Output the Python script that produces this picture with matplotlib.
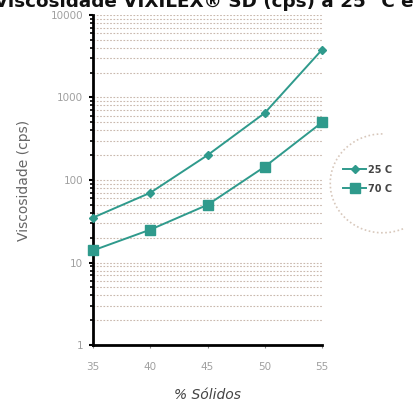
import matplotlib.pyplot as plt
import numpy as np
from matplotlib.ticker import FixedLocator, NullFormatter
from matplotlib.patches import Arc

# data
solidos = [35, 40, 45, 50, 55]
visc_25c = [35, 70, 200, 650, 3800]
visc_70c = [14, 25, 50, 145, 500]
series_labels = ["25 C", "70 C"]
y_ticks = [1, 10, 100, 1000, 10000]

teal = "#2f9a8c"
grid_col = "#c9b8ad"
tick_col = "#a0a0a0"

fig = plt.figure(figsize=(4.18, 4.12), dpi=100)
ax = fig.add_axes([0.2225, 0.1626, 0.548, 0.801])

# horizontal grid at every minor step of each decade
minors = [m * 10 ** d for d in range(0, 4) for m in range(2, 11)]
for v in minors:
    ax.axhline(v, color=grid_col, lw=0.8, ls=(0, (1.5, 1.5)), zorder=1)

ax.plot(solidos, visc_25c, color=teal, lw=1.4, marker="D", ms=4.5,
        label=series_labels[0], zorder=3, clip_on=False)
ax.plot(solidos, visc_70c, color=teal, lw=1.4, marker="s", ms=6.5,
        label=series_labels[1], zorder=3, clip_on=False)

ax.set_yscale("log")
ax.set_ylim(1, 10000)
ax.set_xlim(35, 55)
ax.set_xticks(solidos)
ax.set_xticklabels([str(s) for s in solidos])
ax.yaxis.set_major_locator(FixedLocator(y_ticks))
ax.set_yticklabels([str(t) for t in y_ticks])
ax.yaxis.set_minor_locator(FixedLocator(minors))
ax.yaxis.set_minor_formatter(NullFormatter())

ax.tick_params(axis="both", colors="black", labelcolor=tick_col, labelsize=7.5)
ax.tick_params(axis="y", which="major", length=3, width=1.5, pad=4)
ax.tick_params(axis="y", which="minor", length=2, width=1.2)
ax.tick_params(axis="x", length=2, width=0.8, pad=10, color="#888888")

for s in ["top", "right"]:
    ax.spines[s].set_visible(False)
ax.spines["left"].set_linewidth(2)
ax.spines["bottom"].set_linewidth(2)

ax.set_ylabel("Viscosidade (cps)", color="#666666", fontsize=10, labelpad=14)
ax.set_xlabel("% Sólidos", color="#444444", fontsize=10, style="italic", labelpad=12)

# title is cropped at the top edge in the reference
fig.text(-0.015, 0.982, "Viscosidade VIXILEX® SD (cps) a 25 °C e 70 °C",
         fontsize=13.2, fontweight="bold", color="#111111", ha="left", va="baseline")

leg = fig.legend(loc="center left", bbox_to_anchor=(0.8, 0.565), frameon=False,
                 fontsize=7, handlelength=2.4, handletextpad=0.2, labelspacing=0.9)
for t in leg.get_texts():
    t.set_color("#444444")
    t.set_fontweight("bold")

# faint dotted arc around the legend
arc = Arc((0.915, 0.555), 0.25, 0.24, angle=0, theta1=90, theta2=295,
          transform=fig.transFigure, color="#d8c8bc", lw=1.2, ls=(0, (1, 1.5)))
fig.add_artist(arc)

fig.savefig("out.png", dpi=100)
